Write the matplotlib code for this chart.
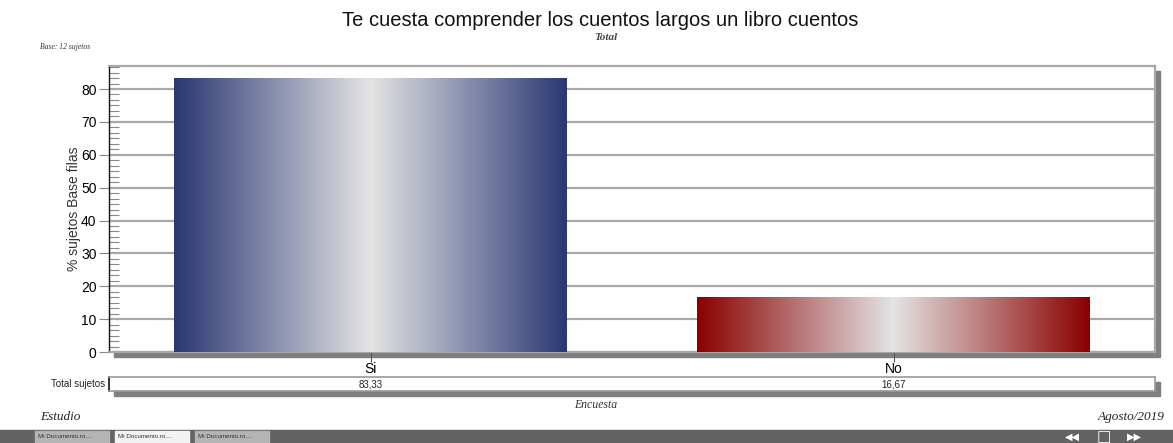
import numpy as np
import matplotlib.pyplot as plt
from matplotlib.ticker import MultipleLocator, AutoMinorLocator
from matplotlib.colors import LinearSegmentedColormap
from matplotlib.patches import Rectangle

categories = ['Si', 'No']
values = [83.33, 16.67]
value_labels = ['83,33', '16,67']
edge_colors = ['#2a3873', '#8a0000']
light = '#e4e4e4'

plt.rcParams['font.family'] = ['Liberation Sans', 'DejaVu Sans']
serif = ['Liberation Serif', 'DejaVu Serif']

fig = plt.figure(figsize=(11.73, 4.43), dpi=100)
W, H = 1173, 443


def fx(px):
    return px / W


def fy(py):
    return 1 - py / H


def shadow(l, t, r, b, off=5):
    fig.patches.append(Rectangle((fx(l + off), fy(b + off)), fx(r - l), fy(t + off) - fy(b + off),
                                 transform=fig.transFigure, color='#7f7f7f', zorder=-1))


ax_l, ax_r, ax_t, ax_b = 109, 1155, 66, 352
ax = fig.add_axes([fx(ax_l), fy(ax_b), fx(ax_r - ax_l), fy(ax_t) - fy(ax_b)])
shadow(ax_l, ax_t, ax_r, ax_b)

x = np.arange(len(categories))
bars = ax.bar(x, values, width=0.75, color='none', zorder=3)
for b, c in zip(bars, edge_colors):
    cmap = LinearSegmentedColormap.from_list('g', [c, light, c])
    grad = np.linspace(0, 1, 256).reshape(1, -1)
    x0, y0 = b.get_x(), b.get_y()
    im = ax.imshow(grad, cmap=cmap, aspect='auto', zorder=3,
                   extent=[x0, x0 + b.get_width(), y0, y0 + b.get_height()])
    im.set_clip_path(b)

ax.set_xlim(-0.5, 1.5)
ax.set_ylim(0, 87)
ax.yaxis.set_major_locator(MultipleLocator(10))
ax.yaxis.set_minor_locator(AutoMinorLocator(6))
ax.grid(axis='y', which='major', color='#a8a8a8', linewidth=1.6, zorder=1)
ax.set_xticks(x)
ax.set_xticklabels(categories, fontsize=10)
ax.tick_params(axis='x', direction='inout', length=14, width=0.8, color='#555555', pad=0)
ax.tick_params(axis='y', which='major', direction='out', length=7, width=0.8,
               color='#888888', labelsize=10, pad=2)
ax.tick_params(axis='y', which='minor', direction='in', length=7, width=0.8, color='#888888')
for s in ['top', 'right', 'bottom']:
    ax.spines[s].set_color('#a8a8a8')
    ax.spines[s].set_linewidth(1.6)
ax.spines['left'].set_color('#111111')
ax.spines['left'].set_linewidth(1.0)
ax.set_ylabel('% sujetos Base filas', fontsize=10, color='#333333', labelpad=0)

# table row
tb_t, tb_b = 377, 391
tax = fig.add_axes([fx(ax_l), fy(tb_b), fx(ax_r - ax_l), fy(tb_t) - fy(tb_b)])
shadow(ax_l, tb_t, ax_r, tb_b)
tax.set_xlim(ax.get_xlim())
tax.set_ylim(0, 1)
tax.set_xticks([])
tax.set_yticks([])
for s in tax.spines.values():
    s.set_color('#999999')
    s.set_linewidth(1.2)
tax.spines['left'].set_color('#111111')
for xi, lab in zip(x, value_labels):
    tax.text(xi, 0.45, lab, ha='center', va='center', fontsize=7, color='#222222')
fig.text(fx(105), fy(384), 'Total sujetos', ha='right', va='center', fontsize=7, color='#222222')

# titles and footers
fig.text(fx(600), fy(20), 'Te cuesta comprender los cuentos largos un libro cuentos',
         ha='center', va='center', fontsize=14.5, color='#111111')
fig.text(fx(606), fy(37), 'Total', ha='center', va='center', fontsize=8,
         family=serif, style='italic', weight='bold', color='#444444')
fig.text(fx(40), fy(47), 'Base: 12 sujetos', ha='left', va='center', fontsize=5.5,
         family=serif, style='italic', color='#333333')
fig.text(fx(596), fy(405), 'Encuesta', ha='center', va='center', fontsize=8.5,
         family=serif, style='italic', color='#333333')
fig.text(fx(40), fy(417), 'Estudio', ha='left', va='center', fontsize=9.5,
         family=serif, style='italic', color='#222222')
fig.text(fx(1165), fy(417), 'Agosto/2019', ha='right', va='center', fontsize=9.5,
         family=serif, style='italic', color='#222222')

# taskbar
fig.patches.append(Rectangle((0, 0), 1, fy(430), transform=fig.transFigure,
                             color='#636363', zorder=0))
tabs = [(35, '#b4b4b4'), (115, '#f2f2f2'), (195, '#b4b4b4')]
for tx, tc in tabs:
    fig.patches.append(Rectangle((fx(tx), 0), fx(74), fy(431), transform=fig.transFigure,
                                 color=tc, zorder=1))
    fig.text(fx(tx + 3), fy(437), 'Mi Documento.ro....', ha='left', va='center',
             fontsize=4.5, color='#333333', zorder=2)
fig.text(fx(1072), fy(437), '\u25c0\u25c0', ha='center', va='center', fontsize=7,
         color='white', family=['DejaVu Sans'])
fig.text(fx(1104), fy(437), '\u25a1', ha='center', va='center', fontsize=11,
         color='white', family=['DejaVu Sans'])
fig.text(fx(1134), fy(437), '\u25b6\u25b6', ha='center', va='center', fontsize=7,
         color='white', family=['DejaVu Sans'])

fig.savefig('out.png', dpi=100)
